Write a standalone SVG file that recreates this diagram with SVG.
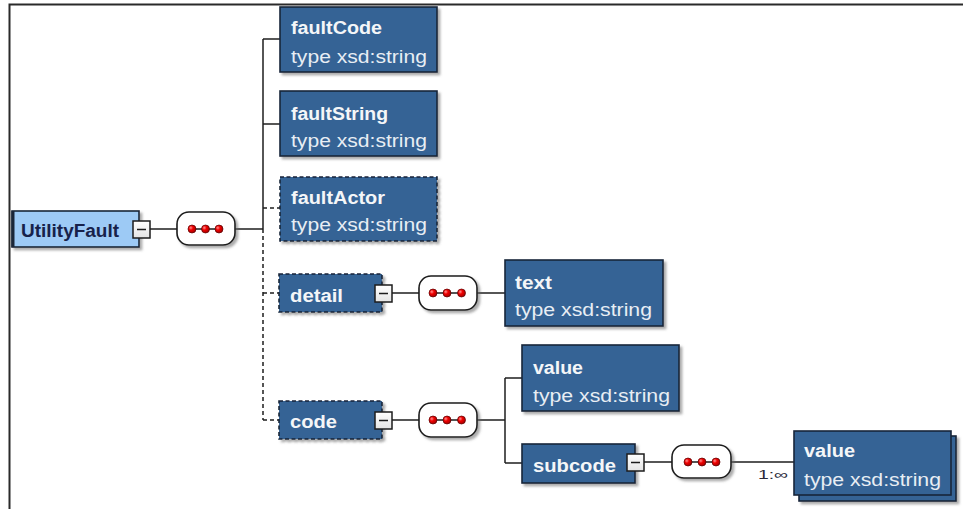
<svg xmlns="http://www.w3.org/2000/svg" width="963" height="509" viewBox="0 0 963 509">
<defs>
<filter id="sh" x="-10%" y="-10%" width="130%" height="140%">
<feDropShadow dx="2.5" dy="2.5" stdDeviation="1.2" flood-color="#666" flood-opacity="0.55"/>
</filter>
<radialGradient id="dot" cx="0.35" cy="0.35" r="0.7">
<stop offset="0" stop-color="#ff9090"/>
<stop offset="0.4" stop-color="#f00000"/>
<stop offset="1" stop-color="#a00000"/>
</radialGradient>
<linearGradient id="mg" x1="0" y1="0" x2="0" y2="1">
<stop offset="0" stop-color="#ffffff"/>
<stop offset="1" stop-color="#e4e4e4"/>
</linearGradient>
</defs>
<style>
.el{fill:#356395;stroke:#17253a;stroke-width:1.6}
.opt{stroke-dasharray:4 2.5}
.root{fill:#9dcaf5;stroke:#1a2638;stroke-width:1.6}
.nm{font-family:"Liberation Sans",Arial,sans-serif;font-weight:bold;font-size:18px;fill:#f4f6f8}
.tp{font-family:"Liberation Sans",Arial,sans-serif;font-size:18px;fill:#e8eef4}
.rn{font-family:"Liberation Sans",Arial,sans-serif;font-weight:bold;font-size:18px;fill:#17224a}
.seq{fill:#ffffff;stroke:#1c1c1c;stroke-width:1.6}
.mb{fill:url(#mg);stroke:#1c1c1c;stroke-width:1.5}
.ml{stroke:#1c1c1c;stroke-width:1.5}
.ln{stroke:#1e1e1e;stroke-width:1.5;fill:none}
.dl{stroke:#1e1e1e;stroke-width:1.5;fill:none;stroke-dasharray:4 3}
.d{fill:url(#dot);stroke:#5a0000;stroke-width:0.7}
.card{font-family:"Liberation Sans",Arial,sans-serif;font-size:13px;fill:#2a2a3a}
</style>
<rect x="0" y="0" width="963" height="509" fill="#ffffff"/>
<g id="frame">
<path d="M9.5 509 V4.5 H963" fill="none" stroke="#2a2a2a" stroke-width="2"/>
</g>

<g id="connectors">
<line class="ln" x1="150" y1="229" x2="177" y2="229"/>
<line class="ln" x1="235" y1="229" x2="263" y2="229"/>
<line class="ln" x1="263" y1="39" x2="263" y2="229"/>
<line class="dl" x1="263" y1="229" x2="263" y2="420"/>
<line class="ln" x1="263" y1="39" x2="280" y2="39"/>
<line class="ln" x1="263" y1="124" x2="280" y2="124"/>
<line class="dl" x1="263" y1="208" x2="280" y2="208"/>
<line class="dl" x1="263" y1="293" x2="279" y2="293"/>
<line class="dl" x1="263" y1="420" x2="279" y2="420"/>
<line class="ln" x1="392" y1="293" x2="419" y2="293"/>
<line class="ln" x1="477" y1="293" x2="505" y2="293"/>
<line class="ln" x1="392" y1="420" x2="419" y2="420"/>
<line class="ln" x1="477" y1="420" x2="505" y2="420"/>
<line class="ln" x1="505" y1="378" x2="505" y2="463"/>
<line class="ln" x1="505" y1="378" x2="522" y2="378"/>
<line class="ln" x1="505" y1="463" x2="522" y2="463"/>
<line class="ln" x1="644" y1="462" x2="672" y2="462"/>
<line class="ln" x1="731" y1="462" x2="794" y2="462"/>
<text class="card" x="758" y="479" textLength="30" lengthAdjust="spacingAndGlyphs">1:∞</text>
</g>

<g id="UtilityFault">
<rect class="root" x="12" y="211" width="127" height="36" filter="url(#sh)"/>
<line x1="13" y1="211" x2="13" y2="247" stroke="#1a2638" stroke-width="3"/>
<text class="rn" x="21" y="237" textLength="98" lengthAdjust="spacingAndGlyphs">UtilityFault</text>
<rect class="mb" x="133" y="221" width="17" height="17"/>
<line class="ml" x1="137" y1="229.5" x2="146" y2="229.5"/>
</g>

<g id="seq1">
<rect class="seq" x="177" y="212" width="58" height="33" rx="12" filter="url(#sh)"/>
<line class="ml" x1="192" y1="229" x2="219" y2="229"/>
<circle class="d" cx="192" cy="229" r="4"/>
<circle class="d" cx="205.5" cy="229" r="4"/>
<circle class="d" cx="219" cy="229" r="4"/>
</g>

<g id="faultCode">
<rect class="el" x="280" y="7" width="157" height="65" filter="url(#sh)"/>
<text class="nm" x="291" y="34" textLength="91" lengthAdjust="spacingAndGlyphs">faultCode</text>
<text class="tp" x="291" y="63" textLength="136" lengthAdjust="spacingAndGlyphs">type xsd:string</text>
</g>

<g id="faultString">
<rect class="el" x="280" y="91" width="157" height="65" filter="url(#sh)"/>
<text class="nm" x="291" y="120" textLength="97" lengthAdjust="spacingAndGlyphs">faultString</text>
<text class="tp" x="291" y="147" textLength="136" lengthAdjust="spacingAndGlyphs">type xsd:string</text>
</g>

<g id="faultActor">
<rect class="el opt" x="280" y="177" width="157" height="64" filter="url(#sh)"/>
<text class="nm" x="291" y="204" textLength="94" lengthAdjust="spacingAndGlyphs">faultActor</text>
<text class="tp" x="291" y="231" textLength="136" lengthAdjust="spacingAndGlyphs">type xsd:string</text>
</g>

<g id="detail">
<rect class="el opt" x="279" y="274" width="103" height="38" filter="url(#sh)"/>
<text class="nm" x="290" y="302" textLength="53" lengthAdjust="spacingAndGlyphs">detail</text>
<rect class="mb" x="375" y="285" width="17" height="17"/>
<line class="ml" x1="379" y1="293.5" x2="388" y2="293.5"/>
</g>

<g id="seq2">
<rect class="seq" x="419" y="276" width="58" height="34" rx="12" filter="url(#sh)"/>
<line class="ml" x1="433" y1="293" x2="461.5" y2="293"/>
<circle class="d" cx="433" cy="293" r="4"/>
<circle class="d" cx="447" cy="293" r="4"/>
<circle class="d" cx="461.5" cy="293" r="4"/>
</g>

<g id="text">
<rect class="el" x="505" y="260" width="158" height="66" filter="url(#sh)"/>
<text class="nm" x="515" y="289" textLength="37" lengthAdjust="spacingAndGlyphs">text</text>
<text class="tp" x="515" y="316" textLength="137" lengthAdjust="spacingAndGlyphs">type xsd:string</text>
</g>

<g id="code">
<rect class="el opt" x="279" y="401" width="103" height="38" filter="url(#sh)"/>
<text class="nm" x="290" y="428" textLength="47" lengthAdjust="spacingAndGlyphs">code</text>
<rect class="mb" x="375" y="412" width="17" height="17"/>
<line class="ml" x1="379" y1="420.5" x2="388" y2="420.5"/>
</g>

<g id="seq3">
<rect class="seq" x="419" y="403" width="58" height="34" rx="12" filter="url(#sh)"/>
<line class="ml" x1="433" y1="420" x2="461.5" y2="420"/>
<circle class="d" cx="433" cy="420" r="4"/>
<circle class="d" cx="447" cy="420" r="4"/>
<circle class="d" cx="461.5" cy="420" r="4"/>
</g>

<g id="value">
<rect class="el" x="522" y="345" width="157" height="66" filter="url(#sh)"/>
<text class="nm" x="533" y="374" textLength="50" lengthAdjust="spacingAndGlyphs">value</text>
<text class="tp" x="533" y="402" textLength="137" lengthAdjust="spacingAndGlyphs">type xsd:string</text>
</g>

<g id="subcode">
<rect class="el" x="522" y="444" width="113" height="39" filter="url(#sh)"/>
<text class="nm" x="533" y="472" textLength="83" lengthAdjust="spacingAndGlyphs">subcode</text>
<rect class="mb" x="627" y="454" width="17" height="17"/>
<line class="ml" x1="631" y1="462.5" x2="640" y2="462.5"/>
</g>

<g id="seq4">
<rect class="seq" x="672" y="445" width="59" height="33" rx="12" filter="url(#sh)"/>
<line class="ml" x1="688" y1="462" x2="716" y2="462"/>
<circle class="d" cx="688" cy="462" r="4"/>
<circle class="d" cx="702" cy="462" r="4"/>
<circle class="d" cx="716" cy="462" r="4"/>
</g>

<g id="subvalue">
<rect class="el" x="799" y="436" width="157" height="65" filter="url(#sh)"/>
<rect class="el" x="794" y="431" width="157" height="64"/>
<text class="nm" x="804" y="457" textLength="51" lengthAdjust="spacingAndGlyphs">value</text>
<text class="tp" x="804" y="486" textLength="137" lengthAdjust="spacingAndGlyphs">type xsd:string</text>
</g>
</svg>
